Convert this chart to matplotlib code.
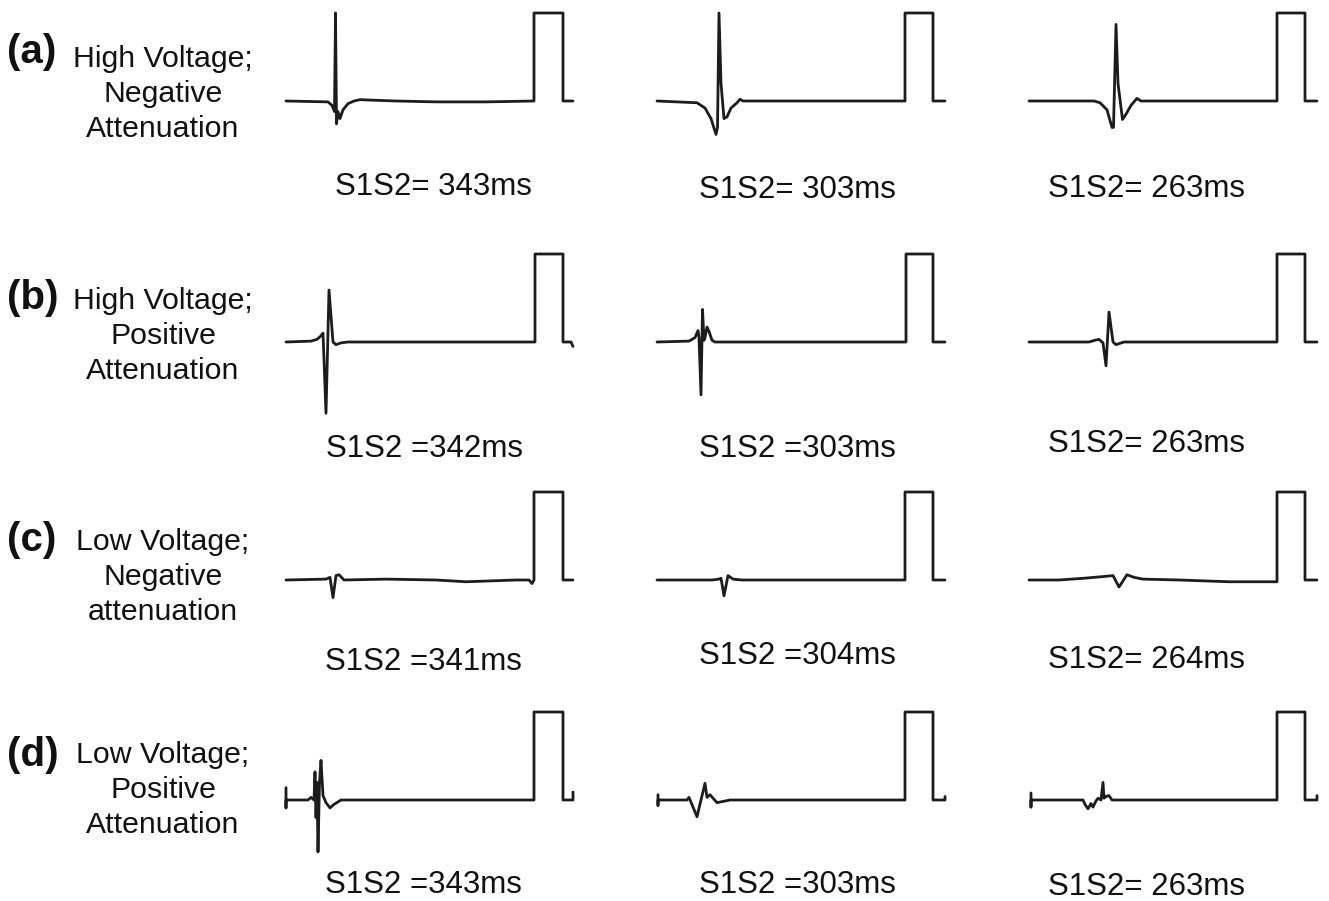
import matplotlib.pyplot as plt

# sweep traces: t = sample offset from trace start, v = amplitude relative to pacing pulse height
a1_t = [0, 42, 46, 48.5, 49.5, 50.5, 52, 54, 57, 62, 68, 74, 85, 110, 150, 200, 248, 248, 277, 277, 287]
a1_v = [0, -0.01, -0.05, -0.12, 1.0, -0.26, -0.12, -0.2, -0.1, -0.03, 0.0, 0.015, 0.01, 0, -0.01, -0.01, 0, 1, 1, 0, 0]
a2_t = [0, 40, 48, 54, 59, 60.5, 62, 64, 67, 70, 74, 80, 83, 86, 150, 248, 248, 276, 276, 288]
a2_v = [0, -0.02, -0.08, -0.2, -0.38, -0.3, 1.0, 0.2, -0.2, -0.18, -0.08, -0.02, 0.02, 0, 0, 0, 1, 1, 0, 0]
a3_t = [0, 65, 71, 78, 83, 84.5, 87, 89, 93.5, 97, 102, 108, 112, 200, 248, 248, 276, 276, 288]
a3_v = [0, 0, -0.02, -0.1, -0.3, -0.3, 0.87, 0.2, -0.21, -0.15, -0.05, 0.03, 0, 0, 0, 1, 1, 0, 0]

b1_t = [0, 25, 31, 35, 37, 40, 43, 47, 50, 55, 62, 120, 249, 249, 277, 277, 285, 287]
b1_v = [0, 0.01, 0.03, 0.07, 0.1, -0.81, 0.59, 0.0, -0.03, -0.01, 0, 0, 0, 1, 1, 0, 0, -0.05]
b2_t = [0, 32, 38, 41, 42, 44, 45.5, 47, 48, 50, 52, 55, 58, 150, 249, 249, 276, 276, 288]
b2_v = [0, 0.01, 0.05, 0.13, 0.05, -0.6, 0.37, 0.02, 0.05, 0.17, 0.12, 0.02, 0, 0, 0, 1, 1, 0, 0]
b3_t = [0, 60, 66, 70, 74, 77, 80, 84, 87, 95, 200, 248, 248, 276, 276, 288]
b3_v = [0, 0, 0.02, 0.03, -0.01, -0.27, 0.34, 0.0, -0.03, 0, 0, 0, 1, 1, 0, 0]

c1_t = [0, 40, 44, 47, 50, 53, 58, 100, 150, 180, 230, 243, 246, 248, 248, 277, 277, 287]
c1_v = [0, 0.01, 0.03, -0.2, 0.05, 0.06, 0.0, 0.01, 0.0, -0.02, 0.0, 0, -0.04, 0, 1, 1, 0, 0]
c2_t = [0, 55, 62, 64, 67, 71, 76, 85, 150, 248, 248, 276, 276, 288]
c2_v = [0, 0, 0.01, 0.02, -0.18, 0.05, 0.01, 0, 0, 0, 1, 1, 0, 0]
c3_t = [0, 30, 55, 75, 84, 90, 98, 105, 114, 150, 200, 248, 248, 276, 276, 288]
c3_v = [0, 0, 0.02, 0.04, 0.05, -0.08, 0.06, 0.03, 0.01, 0, -0.02, -0.02, 1, 1, 0, 0]

d1_t = [0, 0, 0, 22, 25, 28, 29, 30, 31, 32, 33.5, 35, 37, 40, 44, 48, 55, 248, 248, 277, 277, 287, 287]
d1_v = [0.14, -0.09, 0, 0, 0.03, 0, 0.32, -0.2, 0.2, -0.59, 0.2, 0.45, 0.05, -0.03, -0.09, -0.05, 0, 0, 1, 1, 0, 0, 0.09]
d2_t = [1, 1, 1, 30, 32, 40, 48, 50, 53, 60, 73, 248, 248, 276, 276, 288, 288]
d2_v = [0.06, -0.06, 0, 0, 0.03, -0.19, 0.19, 0.03, 0.06, -0.03, 0, 0, 1, 1, 0, 0, 0.04]
d3_t = [2, 2, 2, 54, 56, 59, 62, 64, 67, 69, 72, 74, 75, 77, 80, 83, 86, 248, 248, 276, 276, 288, 288]
d3_v = [0.08, -0.08, 0, 0, -0.05, -0.1, -0.04, -0.08, -0.01, 0.02, 0.0, 0.2, 0.02, 0.04, 0.05, 0.0, 0, 0, 1, 1, 0, 0, 0.05]

row_tags = ["(a)", "(b)", "(c)", "(d)"]
row_labels = ["High Voltage;\nNegative\nAttenuation",
              "High Voltage;\nPositive\nAttenuation",
              "Low Voltage;\nNegative\nattenuation",
              "Low Voltage;\nPositive\nAttenuation"]
s1s2_labels = [["S1S2= 343ms", "S1S2= 303ms", "S1S2= 263ms"],
               ["S1S2 =342ms", "S1S2 =303ms", "S1S2= 263ms"],
               ["S1S2 =341ms", "S1S2 =304ms", "S1S2= 264ms"],
               ["S1S2 =343ms", "S1S2 =303ms", "S1S2= 263ms"]]

traces = [[(a1_t, a1_v), (a2_t, a2_v), (a3_t, a3_v)],
          [(b1_t, b1_v), (b2_t, b2_v), (b3_t, b3_v)],
          [(c1_t, c1_v), (c2_t, c2_v), (c3_t, c3_v)],
          [(d1_t, d1_v), (d2_t, d2_v), (d3_t, d3_v)]]

# layout (pixels)
W, H = 1329, 901
col_x = [286, 657, 1029]
row_base = [101, 342, 580, 800]
pulse_px = 88
tag_y = [52, 298, 540, 755]
label_y = [94, 336, 577, 790]
s1s2_x = [[433, 797, 1147], [425, 797, 1147], [423, 797, 1147], [423, 797, 1147]]
s1s2_y = [[187, 190, 189], [449, 449, 444], [662, 656, 660], [885, 885, 887]]

plt.rcParams['font.family'] = ['Liberation Sans', 'DejaVu Sans']
fig = plt.figure(figsize=(W / 100, H / 100), dpi=100)


def fx(x):
    return x / W


def fy(y):
    return 1 - y / H


for r in range(4):
    for c in range(3):
        t, v = traces[r][c]
        ax = fig.add_axes([fx(col_x[c] - 4), fy(row_base[r] + pulse_px), 296 / W, 2.1 * pulse_px / H])
        ax.plot(t, v, color='#1c1c1c', lw=2.0, solid_joinstyle='round', solid_capstyle='round')
        ax.set_xlim(-4, 292)
        ax.set_ylim(-1.0, 1.1)
        ax.axis('off')
        fig.text(fx(s1s2_x[r][c]), fy(s1s2_y[r][c]), s1s2_labels[r][c],
                 ha='center', va='center', fontsize=22.5, color='#111111')

    fig.text(fx(7), fy(tag_y[r]), row_tags[r], ha='left', va='center',
             fontsize=29, fontweight='bold', color='#111111')
    fig.text(fx(163), fy(label_y[r]), row_labels[r], ha='center', va='center',
             fontsize=21.8, linespacing=1.33, color='#111111')

fig.savefig("out.png", dpi=100, facecolor='white')
